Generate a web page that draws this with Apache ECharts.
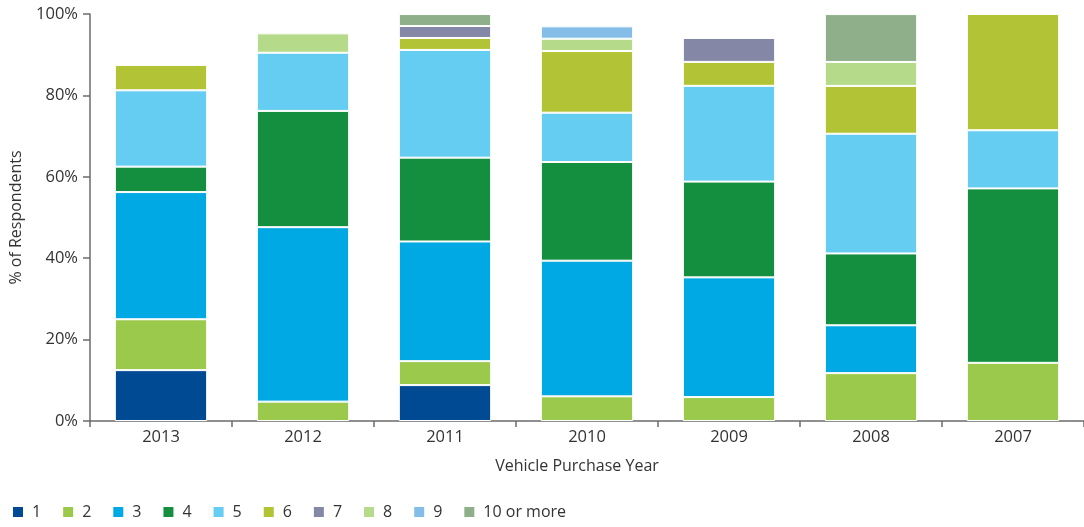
<!DOCTYPE html>
<html>
<head>
<meta charset="utf-8">
<script src="https://cdn.jsdelivr.net/npm/echarts@6/dist/echarts.min.js"></script>
<style>
  html, body { margin: 0; padding: 0; background: #fff; }
  #chart { width: 1084px; height: 527px; }
</style>
</head>
<body>
<div id="chart"></div>
<script>
// Purchase years along the category axis
const years = ['2013', '2012', '2011', '2010', '2009', '2008', '2007'];

// Share of respondents (%) per answer, one value per purchase year
const s1 = [12.5, 0, 8.82, 0, 0, 0, 0];
const s2 = [12.5, 4.76, 5.88, 6.06, 5.88, 11.76, 14.29];
const s3 = [31.25, 42.86, 29.41, 33.33, 29.41, 11.76, 0];
const s4 = [6.25, 28.57, 20.59, 24.24, 23.53, 17.65, 42.86];
const s5 = [18.75, 14.29, 26.47, 12.12, 23.53, 29.41, 14.29];
const s6 = [6.25, 0, 2.94, 15.15, 5.88, 11.76, 28.57];
const s7 = [0, 0, 2.94, 0, 5.88, 0, 0];
const s8 = [0, 4.76, 0, 3.03, 0, 5.88, 0];
const s9 = [0, 0, 0, 3.03, 0, 0, 0];
const s10 = [0, 0, 2.94, 0, 0, 11.76, 0];

const seriesNames = ['1', '2', '3', '4', '5', '6', '7', '8', '9', '10 or more'];
const seriesValues = [s1, s2, s3, s4, s5, s6, s7, s8, s9, s10];
const colors = ['#004A93', '#9BC94B', '#00A9E4', '#148F3F', '#66CDF2',
                '#B2C436', '#8488A6', '#B5DA8A', '#84BDE7', '#8FAE8A'];

const yTicks = [0, 20, 40, 60, 80, 100];

const font = '"Open Sans", "Noto Sans", sans-serif';
const textColor = '#333';
const axisColor = '#6b6b6b';
const chart = echarts.init(document.getElementById('chart'), null, { renderer: 'canvas' });

chart.setOption({
  animation: false,
  color: colors,
  textStyle: { fontFamily: font },
  grid: { left: 90, right: 0, top: 14, bottom: 106 },
  legend: {
    data: seriesNames,
    left: 6,
    top: 499,
    itemWidth: 12,
    itemHeight: 12,
    itemGap: 20,
    icon: 'rect',
    textStyle: { fontSize: 16, color: textColor, fontFamily: font, padding: [0, 0, 0, 3] }
  },
  xAxis: {
    type: 'category',
    data: years,
    name: 'Vehicle Purchase Year',
    nameLocation: 'middle',
    nameGap: 37,
    nameTextStyle: { fontSize: 16, color: textColor, padding: [0, 20, 0, 0] },
    axisLine: { lineStyle: { color: axisColor, width: 1.5 } },
    axisTick: { show: true, length: 6, lineStyle: { color: axisColor, width: 1.5 } },
    axisLabel: { fontSize: 16.5, color: textColor, margin: 8 }
  },
  yAxis: {
    type: 'value',
    min: yTicks[0],
    max: yTicks[yTicks.length - 1],
    interval: 20,
    name: '% of Respondents',
    nameLocation: 'middle',
    nameGap: 66,
    nameTextStyle: { fontSize: 16, color: textColor },
    axisLine: { show: true, lineStyle: { color: axisColor, width: 1.5 } },
    axisTick: { show: true, length: 7, lineStyle: { color: axisColor, width: 1.5 } },
    axisLabel: { fontSize: 16.5, color: textColor, margin: 12, formatter: v => v + '%' },
    splitLine: { show: false }
  },
  series: seriesValues.map((vals, i) => ({
    name: seriesNames[i],
    type: 'bar',
    stack: 'total',
    barWidth: '65%',
    data: vals.map(v => (v === 0 ? null : v)),
    itemStyle: { color: colors[i], borderColor: '#ffffff', borderWidth: 1 }
  }))
});
</script>
</body>
</html>
